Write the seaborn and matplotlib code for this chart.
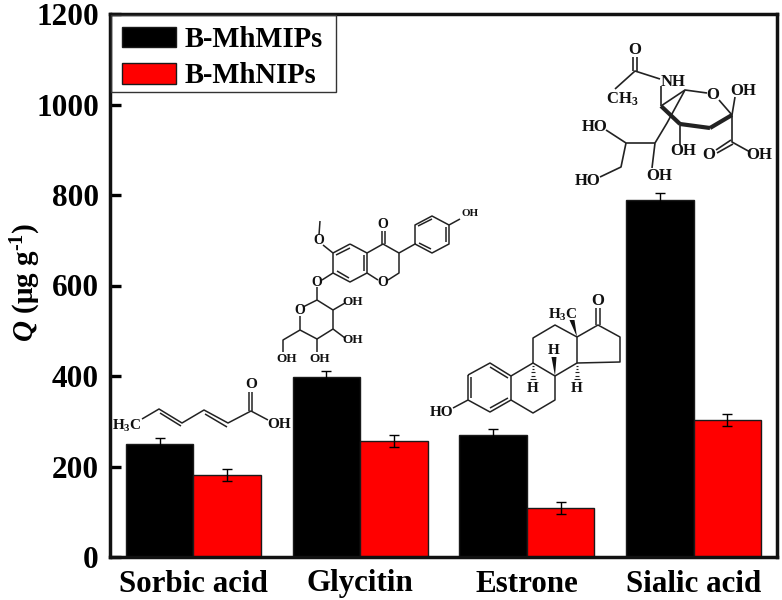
import matplotlib
matplotlib.use("Agg")
import matplotlib.pyplot as plt
from matplotlib.collections import LineCollection
from matplotlib.patches import Polygon, Rectangle
from matplotlib.transforms import Affine2D
import pandas as pd
import seaborn as sns

categories = ["Sorbic acid", "Glycitin", "Estrone", "Sialic acid"]
mips_values = [250, 398, 270, 789]
nips_values = [181, 256, 108, 303]
mips_errors = [14, 13, 13, 15]
nips_errors = [14, 13, 14, 14]
series_names = ["B-MhMIPs", "B-MhNIPs"]

sns.set_theme(style="white")
plt.rcParams.update({
    "font.family": ["Liberation Serif", "DejaVu Serif"],
    "font.weight": "bold",
    "text.color": "black",
    "axes.labelcolor": "black",
    "mathtext.fontset": "custom",
    "mathtext.rm": "Liberation Serif:bold",
    "mathtext.it": "Liberation Serif:italic:bold",
    "mathtext.bf": "Liberation Serif:bold",
    "mathtext.bfit": "Liberation Serif:italic:bold",
})

df = pd.DataFrame({
    "category": categories * 2,
    "Q": mips_values + nips_values,
    "series": [series_names[0]] * 4 + [series_names[1]] * 4,
})

fig = plt.figure(figsize=(7.82, 6.0), dpi=100)
ax = fig.add_axes([110 / 782, 1 - 557 / 600, 667 / 782, 543 / 600])
sns.barplot(data=df, x="category", y="Q", hue="series", order=categories,
            hue_order=series_names, palette=["#000000", "#ff0000"], saturation=1, width=0.81,
            gap=0, errorbar=None, edgecolor="#1a1a1a", linewidth=1.0, ax=ax)

for container, errs in zip(ax.containers, [mips_errors, nips_errors]):
    xs = [b.get_x() + b.get_width() / 2 for b in container]
    hs = [b.get_height() for b in container]
    ax.errorbar(xs, hs, yerr=errs, fmt="none", ecolor="black", elinewidth=1.0,
                capsize=3.8, capthick=1.0, zorder=5)

ax.set_xlim(-0.5, 3.5)
ax.set_ylim(0, 1200)
ax.set_yticks(range(0, 1201, 200))
ax.set_xlabel("")
ax.set_ylabel(r"$\mathbfit{Q}$ (μg g$^{\mathrm{\text{-}1}}$)", fontsize=21, fontweight="bold")
ax.yaxis.set_label_coords(-0.100, 0.505)
ax.tick_params(axis="y", direction="in", length=8, width=2.4, labelsize=22.5, pad=8, left=True, colors="black")
ax.tick_params(axis="x", length=0, labelsize=22.3, pad=9, colors="black")
for lab in ax.get_xticklabels() + ax.get_yticklabels():
    lab.set_fontweight("bold")
for s in ax.spines.values():
    s.set_visible(True)
    s.set_linewidth(2.5)
    s.set_color("#111111")

leg = ax.legend(loc="upper left", bbox_to_anchor=(0.0, 1.0), borderaxespad=0, frameon=False,
                handlelength=1.9, handleheight=0.72, handletextpad=0.3,
                labelspacing=0.33, borderpad=0.42, title=None,
                prop={"family": "Liberation Serif", "weight": "bold", "size": 20.6})
leg.set_zorder(2)

# Decorative molecule sketches and the legend frame, given in image pixels
px = Affine2D().scale(1 / 782, -1 / 600).translate(0, 1) + fig.transFigure
fig.add_artist(Rectangle((111, 15), 225, 77, fill=False, edgecolor="#333333", linewidth=1.0, transform=px, zorder=6))

def bonds(chains, lw=1.1):
    segs = [list(c) for c in chains]
    fig.add_artist(LineCollection(segs, colors="#222222", linewidths=lw, transform=px, zorder=6))

def wedge(p, q, w=3.0):
    a = (q[0] - w, q[1])
    b = (q[0] + w, q[1])
    fig.add_artist(Polygon([p, a, b], closed=True, color="#111111", lw=0, transform=px, zorder=6))

def atom(x, y, s, size=11):
    fig.text(x, y, s, transform=px, ha="center", va="center", fontsize=size, fontweight="bold",
             color="#111111", zorder=7)

# Sorbic acid
bonds([[(142, 419), (159, 409), (182, 423), (204, 410), (228, 423), (251, 411), (268, 420)],
       [(160, 413), (181, 426)], [(205, 414), (227, 427)],
       [(249, 411), (249, 392)], [(252, 411), (252, 392)]])
atom(127, 426, "H$_3$C"); atom(251, 385, "O"); atom(279, 425, "OH")

# Glycitin
bonds([[(350, 244), (367, 253), (367, 273), (350, 282), (333, 273), (333, 253), (350, 244)],
       [(350, 248), (336, 255)], [(364, 255), (364, 271)], [(349, 278), (337, 271)],
       [(367, 253), (383, 244), (399, 253), (399, 273), (388, 280)], [(378, 280), (367, 273)],
       [(382, 244), (382, 231)], [(385, 244), (385, 231)],
       [(399, 253), (415, 244), (415, 225), (432, 216), (449, 225), (449, 244), (432, 253), (415, 244)],
       [(418, 226), (432, 219)], [(446, 227), (446, 242)], [(431, 249), (419, 243)],
       [(449, 225), (460, 219)],
       [(333, 253), (323, 245)], [(319, 235), (320, 221)],
       [(333, 273), (322, 280)], [(317, 287), (317, 300)],
       [(317, 300), (333, 310), (333, 329), (317, 339), (300, 330), (300, 316)],
       [(303, 307), (317, 300)],
       [(333, 310), (345, 303)], [(333, 329), (345, 338)], [(317, 339), (317, 352)],
       [(300, 330), (283, 340), (283, 352)]])
atom(383, 225, "O", 10); atom(319, 241, "O", 10); atom(317, 282, "O", 10); atom(383, 282, "O", 10); atom(300, 311, "O", 10)
atom(470, 214, "OH", 8)
atom(353, 302, "OH", 9.5); atom(353, 340, "OH", 9.5); atom(320, 359, "OH", 9.5); atom(287, 359, "OH", 9.5)

# Estrone
bonds([[(468, 375), (490, 363), (511, 376), (511, 400), (490, 412), (468, 400), (468, 375)],
       [(471, 377), (471, 398)], [(490, 367), (508, 378)], [(490, 408), (508, 398)],
       [(468, 400), (453, 408)],
       [(511, 376), (533, 363), (555, 376), (555, 400), (533, 413), (511, 400)],
       [(533, 363), (533, 338), (555, 325), (577, 337), (577, 363), (555, 376)],
       [(577, 337), (598, 325), (620, 337), (620, 362), (577, 363)],
       [(596, 325), (596, 308)], [(600, 325), (600, 308)]])
wedge((577, 337), (572, 320), 2.5)
wedge((555, 376), (554, 357), 2.5)
bonds([[(533 - k, 366 + 3.2 * i), (533 + k, 366 + 3.2 * i)] for i, k in enumerate([0.8, 1.3, 1.8, 2.3, 2.8])] +
      [[(577 - k, 366 + 3.2 * i), (577 + k, 366 + 3.2 * i)] for i, k in enumerate([0.8, 1.3, 1.8, 2.3, 2.8])], 0.8)
atom(442, 413, "HO"); atom(598, 301, "O", 12); atom(563, 315, "H$_3$C")
atom(533, 388, "H"); atom(554, 350, "H"); atom(577, 388, "H")

# Sialic acid
bonds([[(615, 89), (635, 71), (660, 79)], [(633, 71), (633, 57)], [(637, 71), (637, 57)],
       [(661, 86), (661, 106)],
       [(732, 115), (719, 100)], [(707, 93), (685, 90), (661, 106)],
       [(685, 90), (667, 123), (655, 143)],
       [(680, 124), (680, 145)], [(732, 115), (735, 97)],
       [(732, 115), (732, 142), (750, 152)], [(731, 140), (716, 150)], [(733, 144), (717, 153)],
       [(655, 143), (626, 143), (606, 130)], [(626, 143), (621, 167), (600, 177)],
       [(655, 143), (652, 168)]], 1.2)
bonds([[(661, 106), (680, 124)], [(680, 124), (710, 128)], [(710, 128), (732, 115)]], 3.0)
atom(635, 50, "O", 12); atom(622, 99, "CH$_3$", 12); atom(673, 82, "NH", 12); atom(713, 95, "O", 12)
atom(743, 91, "OH", 12); atom(683, 151, "OH", 12); atom(709, 155, "O", 12); atom(759, 155, "OH", 12)
atom(595, 127, "HO", 12); atom(588, 181, "HO", 12); atom(659, 176, "OH", 12)

fig.savefig("out.png", dpi=100)
